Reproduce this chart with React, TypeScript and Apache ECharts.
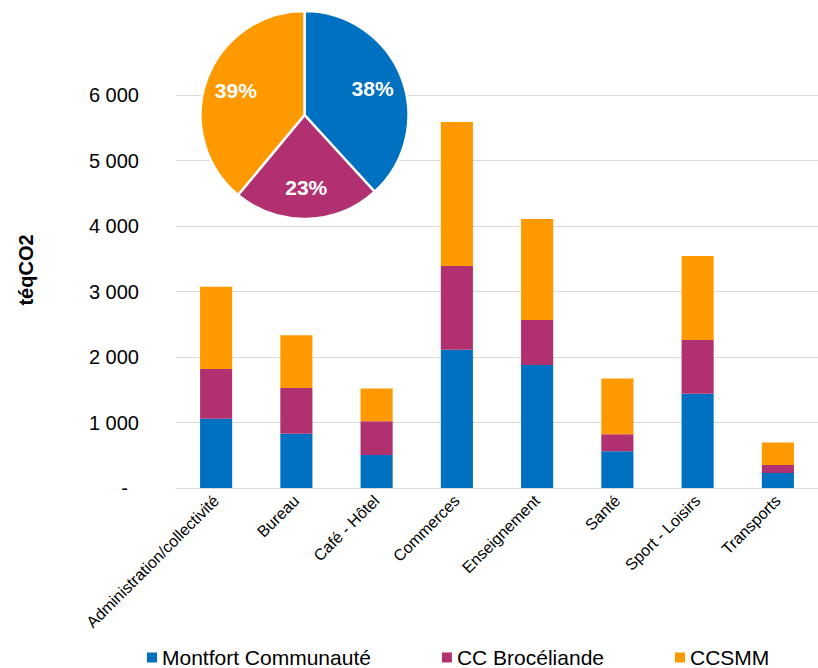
import React, { useEffect, useRef } from "react";
import * as echarts from "echarts";

const categories = [
  "Administration/collectivité",
  "Bureau",
  "Café - Hôtel",
  "Commerces",
  "Enseignement",
  "Santé",
  "Sport - Loisirs",
  "Transports",
];
const seriesNames = ["Montfort Communauté", "CC Brocéliande", "CCSMM"];
const montfort = [1056, 827, 505, 2112, 1878, 561, 1439, 230];
const broceliande = [760, 699, 515, 1277, 688, 260, 821, 122];
const ccsmm = [1255, 806, 500, 2199, 1541, 852, 1282, 342];
const colors = ["#0070C0", "#B1306F", "#FF9900"];
const yTicks = [0, 1000, 2000, 3000, 4000, 5000, 6000];

const FONT = "'Liberation Sans', Arial, sans-serif";

function fmt(v: number): string {
  if (v === 0) return "-\u00a0\u00a0";
  const s = String(Math.round(v));
  return s.replace(/\B(?=(\d{3})+(?!\d))/g, " ");
}

export default function App() {
  const ref = useRef<HTMLDivElement>(null);
  useEffect(() => {
    if (!ref.current) return;
    const chart = echarts.init(ref.current, null, { renderer: "svg" });
    const all = [montfort, broceliande, ccsmm];
    const totals = all.map((arr) => arr.reduce((a, b) => a + b, 0));
    const pieData = seriesNames.map((n, i) => ({
      name: n,
      value: totals[i],
      itemStyle: { color: colors[i] },
    }));
    const option: any = {
      animation: false,
      textStyle: { fontFamily: FONT },
      grid: { left: 176, right: -4, top: 95, bottom: 180, containLabel: false },
      legend: {
        data: seriesNames,
        left: 147,
        top: 647,
        itemWidth: 10,
        itemHeight: 10,
        itemGap: 71,
        icon: "rect",
        padding: 0,
        textStyle: { fontSize: 21, color: "#000", fontFamily: FONT, lineHeight: 21 },
      },
      xAxis: {
        type: "category",
        data: categories,
        axisTick: { show: false },
        axisLine: { lineStyle: { color: "#D9D9D9", width: 1 } },
        axisLabel: {
          rotate: 45,
          fontSize: 16,
          color: "#000",
          margin: 10,
          interval: 0,
          fontFamily: FONT,
        },
      },
      yAxis: {
        type: "value",
        min: 0,
        max: yTicks[yTicks.length - 1],
        interval: 1000,
        axisLine: { show: false },
        axisTick: { show: false },
        splitLine: { lineStyle: { color: "#D9D9D9", width: 1 } },
        axisLabel: {
          fontSize: 20,
          color: "#000",
          margin: 37,
          fontFamily: FONT,
          formatter: (v: number) => fmt(v),
        },
      },
      graphic: [
        {
          type: "text",
          x: 26,
          y: 270,
          rotation: Math.PI / 2,
          style: {
            text: "téqCO2",
            align: "center",
            verticalAlign: "middle",
            font: `bold 20px ${FONT}`,
            fill: "#000",
          },
        },
      ],
      series: [
        ...all.map((arr, i) => ({
          name: seriesNames[i],
          type: "bar",
          stack: "total",
          barWidth: "40%",
          data: arr,
          itemStyle: { color: colors[i] },
        })),
        {
          type: "pie",
          center: [304.5, 115],
          radius: [0, 104],
          startAngle: 90,
          clockwise: true,
          data: pieData,
          label: { show: false },
          labelLine: { show: false },
          itemStyle: { borderColor: "#fff", borderWidth: 2.5 },
          silent: true,
          z: 5,
        },
        {
          type: "pie",
          center: [304.5, 115],
          radius: [36, 104],
          startAngle: 90,
          clockwise: true,
          data: pieData.map((d) => ({ name: d.name, value: d.value })),
          itemStyle: { color: "rgba(0,0,0,0)", borderWidth: 0 },
          label: {
            show: true,
            position: "inside",
            color: "#fff",
            fontWeight: "bold",
            fontSize: 21,
            fontFamily: FONT,
            formatter: (p: any) => Math.round(p.percent) + "%",
          },
          labelLine: { show: false },
          silent: true,
          z: 6,
        },
      ],
    };
    chart.setOption(option);
    return () => chart.dispose();
  }, []);
  return (
    <div
      ref={ref}
      style={{ position: "fixed", left: 0, top: 0, width: 818, height: 668, background: "#fff" }}
    />
  );
}
